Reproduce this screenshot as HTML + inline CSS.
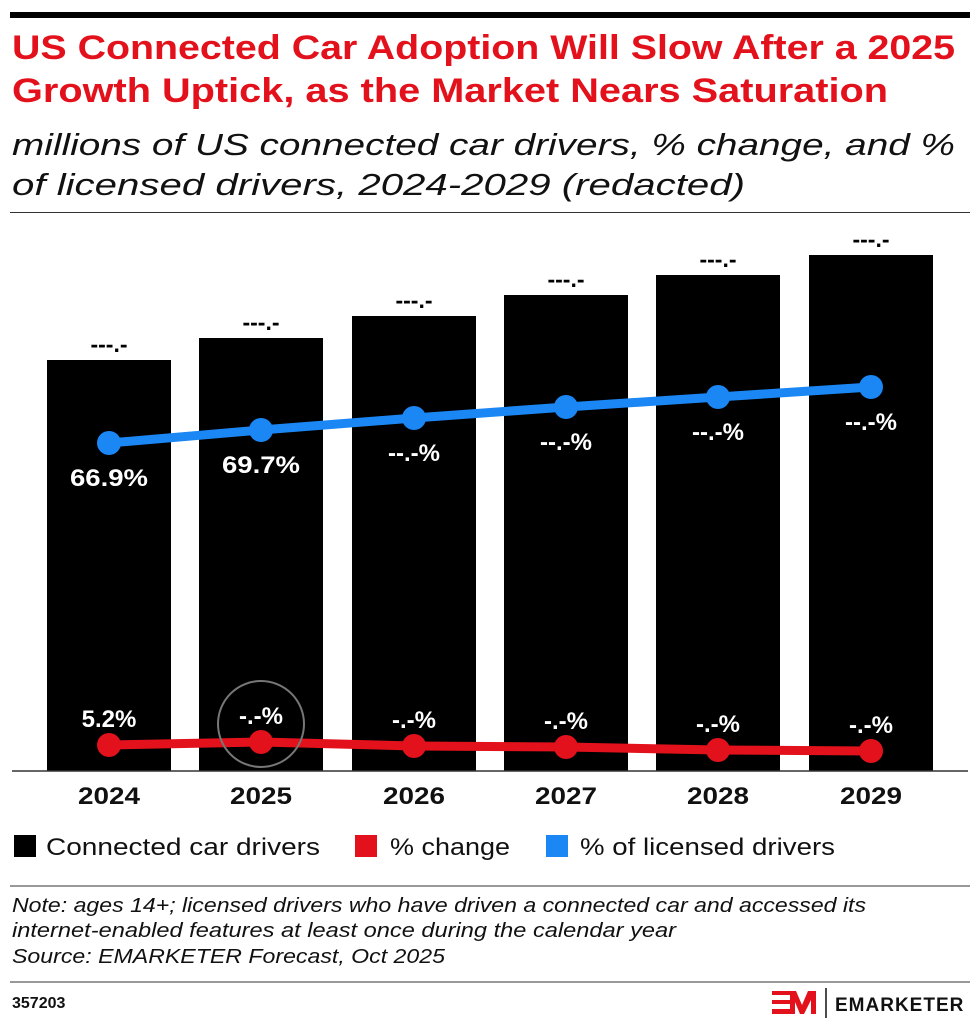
<!DOCTYPE html>
<html><head><style>
body{margin:0;width:980px;height:1030px;background:#fff;font-family:"Liberation Sans",sans-serif;position:relative;overflow:hidden}
.a{position:absolute;white-space:nowrap}
</style></head><body>
<svg class="a" style="left:0;top:0" width="980" height="1030">
<rect x="10" y="12" width="960" height="6" fill="#000"/>
<g font-family="Liberation Sans" font-weight="bold" font-size="34" fill="#e3111b">
<text x="12" y="59" textLength="943" lengthAdjust="spacingAndGlyphs">US Connected Car Adoption Will Slow After a 2025</text>
<text x="12" y="102" textLength="876" lengthAdjust="spacingAndGlyphs">Growth Uptick, as the Market Nears Saturation</text>
</g>
<g font-family="Liberation Sans" font-style="italic" font-size="31" fill="#111">
<text x="12" y="155" textLength="943" lengthAdjust="spacingAndGlyphs">millions of US connected car drivers, % change, and %</text>
<text x="12" y="195" textLength="733" lengthAdjust="spacingAndGlyphs">of licensed drivers, 2024-2029 (redacted)</text>
</g>
<rect x="10" y="212" width="960" height="1" fill="#333"/>
<g fill="#000">
<rect x="47" y="360" width="124" height="411"/>
<rect x="199" y="338" width="124" height="433"/>
<rect x="352" y="316" width="124" height="455"/>
<rect x="504" y="295" width="124" height="476"/>
<rect x="656" y="275" width="124" height="496"/>
<rect x="809" y="255" width="124" height="516"/>
</g>
<line x1="12" y1="771" x2="968" y2="771" stroke="#333" stroke-width="1.5"/>
<g font-family="Liberation Sans" font-weight="bold" font-size="23" text-anchor="middle" fill="#000">
<text x="109" y="352">---.-</text><text x="261" y="330">---.-</text><text x="414" y="308">---.-</text>
<text x="566" y="287">---.-</text><text x="718" y="267">---.-</text><text x="871" y="247">---.-</text>
</g>
<polyline points="109,443 261,430 414,418 566,407 718,397 871,387" fill="none" stroke="#1b87f5" stroke-width="9"/>
<g fill="#1b87f5"><circle cx="109" cy="443" r="12"/><circle cx="261" cy="430" r="12"/><circle cx="414" cy="418" r="12"/><circle cx="566" cy="407" r="12"/><circle cx="718" cy="397" r="12"/><circle cx="871" cy="387" r="12"/></g>
<polyline points="109,745 261,742 414,746 566,747 718,750 871,751" fill="none" stroke="#e3111b" stroke-width="9"/>
<g fill="#e3111b"><circle cx="109" cy="745" r="12"/><circle cx="261" cy="742" r="12"/><circle cx="414" cy="746" r="12"/><circle cx="566" cy="747" r="12"/><circle cx="718" cy="750" r="12"/><circle cx="871" cy="751" r="12"/></g>
<circle cx="261" cy="724" r="43" fill="none" stroke="#777" stroke-width="2"/>
<g font-family="Liberation Sans" font-weight="bold" font-size="24" text-anchor="middle" fill="#fff">
<text x="109" y="486" textLength="78" lengthAdjust="spacingAndGlyphs">66.9%</text><text x="261" y="473" textLength="78" lengthAdjust="spacingAndGlyphs">69.7%</text><text x="414" y="461">--.-%</text>
<text x="566" y="450">--.-%</text><text x="718" y="440">--.-%</text><text x="871" y="430">--.-%</text>
<text x="109" y="727">5.2%</text><text x="261" y="724">-.-%</text><text x="414" y="728">-.-%</text>
<text x="566" y="729">-.-%</text><text x="718" y="732">-.-%</text><text x="871" y="733">-.-%</text>
</g>
<g font-family="Liberation Sans" font-weight="bold" font-size="24" text-anchor="middle" fill="#111">
<text x="109" y="804" textLength="62" lengthAdjust="spacingAndGlyphs">2024</text><text x="261" y="804" textLength="62" lengthAdjust="spacingAndGlyphs">2025</text><text x="414" y="804" textLength="62" lengthAdjust="spacingAndGlyphs">2026</text>
<text x="566" y="804" textLength="62" lengthAdjust="spacingAndGlyphs">2027</text><text x="718" y="804" textLength="62" lengthAdjust="spacingAndGlyphs">2028</text><text x="871" y="804" textLength="62" lengthAdjust="spacingAndGlyphs">2029</text>
</g>
<rect x="14" y="835" width="22" height="22" fill="#000"/>
<rect x="355" y="835" width="22" height="22" fill="#e3111b"/>
<rect x="546" y="835" width="22" height="22" fill="#1b87f5"/>
<g font-family="Liberation Sans" font-size="24" fill="#111">
<text x="46" y="855" textLength="274" lengthAdjust="spacingAndGlyphs">Connected car drivers</text><text x="390" y="855" textLength="120" lengthAdjust="spacingAndGlyphs">% change</text><text x="580" y="855" textLength="255" lengthAdjust="spacingAndGlyphs">% of licensed drivers</text>
</g>
<line x1="10" y1="886" x2="970" y2="886" stroke="#333" stroke-width="1"/>
<g font-family="Liberation Sans" font-style="italic" font-size="20" fill="#111">
<text x="12" y="912" textLength="854" lengthAdjust="spacingAndGlyphs">Note: ages 14+; licensed drivers who have driven a connected car and accessed its</text>
<text x="12" y="937" textLength="664" lengthAdjust="spacingAndGlyphs">internet-enabled features at least once during the calendar year</text>
<text x="12" y="963" textLength="433" lengthAdjust="spacingAndGlyphs">Source: EMARKETER Forecast, Oct 2025</text>
</g>
<line x1="10" y1="982" x2="970" y2="982" stroke="#333" stroke-width="1"/>
<text x="12" y="1008" font-family="Liberation Sans" font-weight="bold" font-size="16" fill="#111">357203</text>
<g fill="#e3111b">
<rect x="772" y="991" width="18" height="4"/><rect x="772" y="1000" width="18" height="4"/><rect x="772" y="1009" width="18" height="5"/>
<polygon points="790,991 796,991 802,1005 808,991 816,991 816,1014 811,1014 811,1000 804,1014 800,1014 795,1002 795,1014 790,1014"/>
</g>
<line x1="826" y1="988" x2="826" y2="1018" stroke="#111" stroke-width="1.5"/>
<text x="835" y="1011" font-family="Liberation Sans" font-weight="bold" font-size="19" letter-spacing="1" fill="#111">EMARKETER</text>
</svg>
</body></html>
